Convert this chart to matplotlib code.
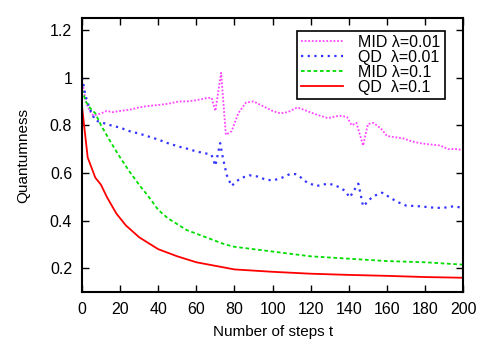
import numpy as np
import matplotlib
matplotlib.use("Agg")
import matplotlib.pyplot as plt

plt.rcParams["font.family"] = ["Liberation Sans", "DejaVu Sans"]
plt.rcParams["font.size"] = 11

# MID lambda=0.01 (magenta, dotted)
t_mid001 = [0, 2, 4, 6, 8, 10, 13, 16, 20, 25, 30, 34, 40, 45, 51, 55, 60, 66, 68, 70, 73,
            75.5, 78.5, 82, 86, 90, 95, 100, 104, 108, 113, 118, 123, 129, 135, 139, 141.5,
            144, 147.5, 150, 153, 157, 160, 164, 168.5, 172, 177, 182, 188, 192, 197, 200]
mid001 = [0.99, 0.90, 0.86, 0.84, 0.845, 0.85, 0.86, 0.855, 0.86, 0.865, 0.875, 0.88, 0.885,
          0.89, 0.90, 0.90, 0.905, 0.915, 0.915, 0.86, 1.02, 0.76, 0.775, 0.85, 0.895, 0.90,
          0.88, 0.86, 0.85, 0.855, 0.875, 0.86, 0.845, 0.83, 0.84, 0.835, 0.80, 0.81, 0.715,
          0.805, 0.81, 0.785, 0.755, 0.75, 0.745, 0.735, 0.725, 0.72, 0.715, 0.70, 0.70, 0.695]

# QD lambda=0.01 (blue, dotted)
t_qd001 = [0, 2, 4, 7, 11, 15, 20, 25, 30, 34, 40, 45, 51, 56, 60, 66, 68, 70, 72.5, 74, 76,
           78.5, 81, 84, 88, 92, 97, 101, 105, 109, 112, 115, 118, 123, 129, 132, 135, 138,
           140.5, 143, 145, 147.5, 150, 152, 155, 157.5, 161, 165, 170, 177, 186, 191, 195,
           198.5, 200]
qd001 = [1.0, 0.92, 0.87, 0.82, 0.81, 0.80, 0.79, 0.775, 0.765, 0.755, 0.74, 0.725, 0.71, 0.70,
         0.69, 0.68, 0.675, 0.63, 0.725, 0.66, 0.59, 0.545, 0.565, 0.58, 0.59, 0.585, 0.57,
         0.57, 0.58, 0.595, 0.595, 0.58, 0.56, 0.545, 0.555, 0.55, 0.54, 0.525, 0.497, 0.53,
         0.555, 0.46, 0.48, 0.497, 0.51, 0.517, 0.50, 0.48, 0.463, 0.46, 0.453, 0.455, 0.46,
         0.455, 0.45]

# MID lambda=0.1 (green, dashed)
t_mid01 = [0, 2, 4, 7, 10, 15, 20, 25, 30, 35, 40, 45, 50, 55, 60, 65, 70, 75, 80, 90, 100,
           120, 140, 160, 180, 200]
mid01 = [0.95, 0.90, 0.875, 0.85, 0.80, 0.73, 0.665, 0.605, 0.55, 0.50, 0.445, 0.41, 0.385,
         0.36, 0.345, 0.33, 0.315, 0.30, 0.29, 0.28, 0.27, 0.25, 0.24, 0.23, 0.225, 0.215]

# QD lambda=0.1 (red, solid)
t_qd01 = [0, 3, 7, 10, 13, 18, 23, 30, 40, 50, 60, 70, 80, 90, 100, 120, 140, 160, 180, 200]
qd01 = [0.88, 0.665, 0.58, 0.55, 0.50, 0.43, 0.38, 0.33, 0.28, 0.25, 0.225, 0.21, 0.195,
        0.19, 0.185, 0.177, 0.172, 0.168, 0.163, 0.16]

labels = ["MID \u03bb=0.01", "QD  \u03bb=0.01", "MID \u03bb=0.1", "QD  \u03bb=0.1"]
xticks = list(range(0, 201, 20))
yticks = [0.2, 0.4, 0.6, 0.8, 1.0, 1.2]
yticklabels = ["0.2", "0.4", "0.6", "0.8", "1", "1.2"]

fig = plt.figure(figsize=(4.85, 3.4), dpi=100)
ax = fig.add_axes([0.169, 0.141, 0.786, 0.806])

ax.plot(t_mid001, mid001, color="#ff44ff", lw=1.3, ls=(0, (1, 1)), label=labels[0])
ax.plot(t_qd001, qd001, color="#3333ff", lw=1.6, ls=(0, (1, 2)), label=labels[1])
ax.plot(t_mid01, mid01, color="#00dd00", lw=1.3, ls=(0, (2, 1.5)), label=labels[2])
ax.plot(t_qd01, qd01, color="#ff0000", lw=1.3, label=labels[3])

ax.set_xlim(0, 200)
ax.set_ylim(0.1, 1.25)
ax.set_xticks(xticks)
ax.set_yticks(yticks)
ax.set_yticklabels(yticklabels)
ax.tick_params(direction="in", top=True, right=True, length=5, width=1,
               labelsize=11.5, pad=7)
for s in ax.spines.values():
    s.set_linewidth(1.5)

ax.set_xlabel("Number of steps t", fontsize=11, labelpad=6)
ax.set_ylabel("Quantumness", fontsize=11, labelpad=14)

leg = ax.legend(loc="upper right", bbox_to_anchor=(0.96, 0.965), fancybox=False,
                edgecolor="black", framealpha=1, fontsize=11.5, handlelength=2.6,
                borderpad=0.25, labelspacing=0.0, handletextpad=1.0, borderaxespad=0.2)
leg.get_frame().set_linewidth(1.2)

fig.savefig("out.png", dpi=100)
